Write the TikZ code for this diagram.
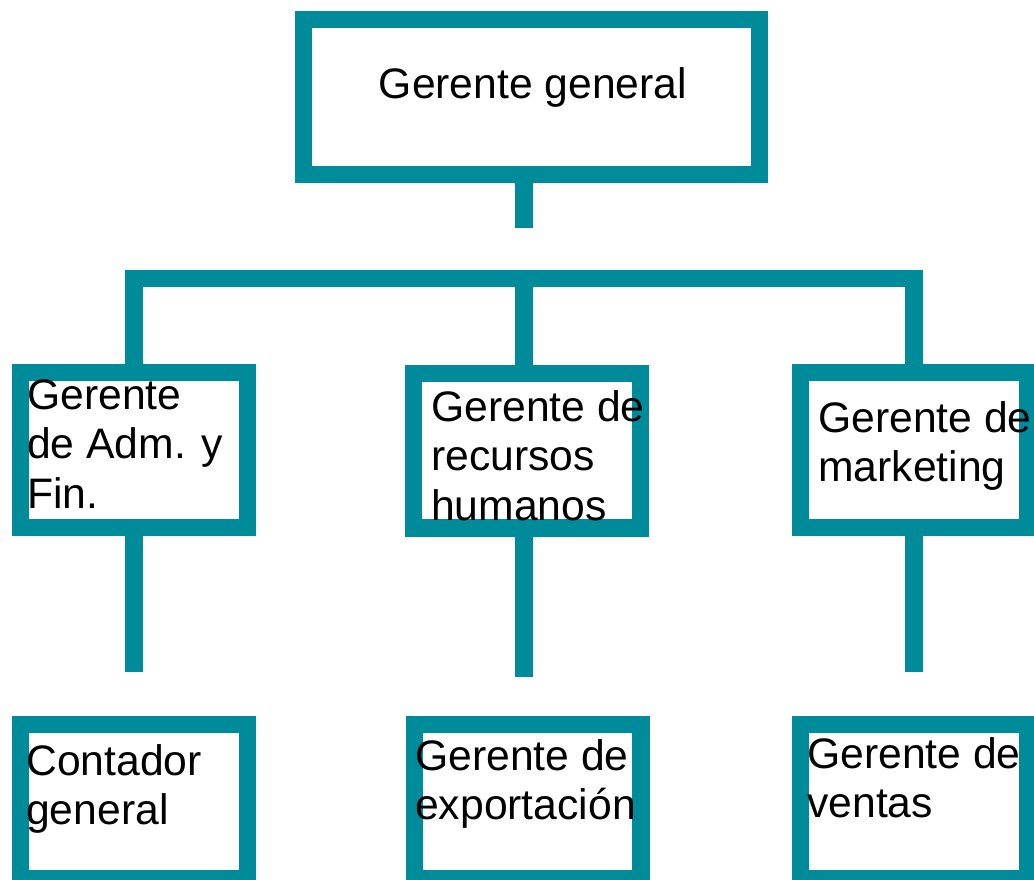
\documentclass[tikz,border=0pt]{standalone}
\usepackage{fontspec}
\setmainfont{Liberation Sans}
\definecolor{orgteal}{RGB}{0,139,155}

\begin{document}
\begin{tikzpicture}[x=0.75pt,y=-0.75pt]
        \tikzset{box/.style={draw=orgteal,line width=13pt,inner sep=0pt,
            minimum width=170pt,minimum height=116pt},
          txt/.style={font=\fontsize{32pt}{37.1pt}\selectfont,align=left,
            inner sep=0pt,anchor=north west},
          link/.style={draw=orgteal,line width=13pt,line join=miter}}
        \useasboundingbox (0,0) rectangle (1034,879);
        % boxes
        \node[box,minimum width=341.75pt] (gg) at (531.5,97) {};
        \node[box] (adm) at (134,450) {};
        \node[box] (rh) at (527,450.5) {};
        \node[box] (mkt) at (914,450) {};
        \node[box,minimum height=115.25pt] (cont) at (134,801.5) {};
        \node[box,minimum height=115.25pt] (exp) at (527.5,801.5) {};
        \node[box,minimum height=115.25pt] (ven) at (914,801.5) {};
        % texts
        \node[txt,anchor=north] (gg-t) at (533,67) {Gerente general};
        \node[txt] (adm-t) at (27,379) {Gerente\\de Adm. y\\Fin.};
        \node[txt] (rh-t) at (431,390) {Gerente de\\recursos\\humanos};
        \node[txt] (mkt-t) at (818,401) {Gerente de\\marketing};
        \node[txt] (cont-t) at (26,744) {Contador\\general};
        \node[txt] (exp-t) at (415,739) {Gerente de\\exportaci\'on};
        \node[txt] (ven-t) at (807,737) {Gerente de\\ventas};
        % lines
        \coordinate (j1) at (524,228);
        \coordinate (bar) at (524,278.5);
        \coordinate (e1) at (134,672);
        \coordinate (e2) at (524,677);
        \coordinate (e3) at (914,672);
        \path[link] (gg.south -| j1) -- (j1);
        \path[link] (adm.north) -- (adm.north |- bar) -- (mkt.north |- bar) -- (mkt.north);
        \path[link] (bar) -- (rh.north -| bar);
        \path[link] (adm.south) -- (e1);
        \path[link] (rh.south -| e2) -- (e2);
        \path[link] (mkt.south) -- (e3);
\end{tikzpicture}
\end{document}
